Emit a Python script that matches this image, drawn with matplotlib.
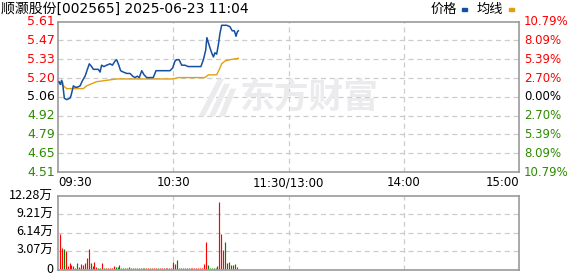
import numpy as np
import matplotlib
matplotlib.use('Agg')
import matplotlib.pyplot as plt
import matplotlib.transforms as mtransforms
from matplotlib.patches import Polygon

plt.rcParams['font.family'] = ['Noto Sans CJK SC', 'DejaVu Sans']

# 分时数据 (分钟, 价格)
price_min = [0.5, 1.2, 1.9, 2.4, 3.3, 4.5, 6.2, 6.8, 8.0, 8.9, 10.1, 11.5, 12.8, 14.1,
             15.3, 16.3, 17.5, 18.4, 20.1, 21.0, 21.9, 22.7, 23.9, 25.3, 27.1, 28.3,
             29.7, 30.5, 31.4, 32.6, 34.0, 35.8, 37.5, 38.9, 40.1, 41.3, 42.3, 43.6,
             44.8, 46.2, 47.9, 49.6, 51.0, 53.1, 54.8, 56.6, 58.3, 59.7, 60.9, 61.8,
             63.0, 64.4, 65.3, 66.1, 67.8, 69.6, 71.3, 73.0, 74.4, 75.7, 76.9, 77.5,
             78.8, 80.0, 80.9, 81.7, 82.6, 83.5, 84.3, 85.2, 87.8, 89.5, 90.7, 91.8,
             92.7, 93.3, 93.9]
price_val = [5.17, 5.15, 5.18, 5.16, 5.05, 5.04, 5.05, 5.07, 5.14, 5.13, 5.13, 5.14, 5.18, 5.21,
             5.26, 5.30, 5.28, 5.26, 5.26, 5.26, 5.24, 5.29, 5.28, 5.29, 5.30, 5.29,
             5.32, 5.33, 5.30, 5.25, 5.24, 5.23, 5.23, 5.21, 5.20, 5.21, 5.20, 5.25,
             5.22, 5.20, 5.20, 5.20, 5.25, 5.25, 5.25, 5.25, 5.25, 5.27, 5.32, 5.33,
             5.33, 5.29, 5.29, 5.29, 5.28, 5.28, 5.28, 5.28, 5.28, 5.33, 5.40, 5.49,
             5.43, 5.38, 5.35, 5.38, 5.37, 5.44, 5.52, 5.58, 5.58, 5.57, 5.54, 5.54,
             5.50, 5.53, 5.54]

# 均价线
avg_min = [0.5, 2.8, 4.5, 9.7, 13.2, 14.9, 20.1, 25.3, 30.5, 39.2, 60.0, 62.7, 76.5,
           78.3, 82.6, 84.0, 85.2, 86.9, 89.5, 93.9]
avg_val = [5.17, 5.14, 5.12, 5.12, 5.12, 5.14, 5.17, 5.18, 5.19, 5.19, 5.19, 5.20, 5.20,
           5.22, 5.22, 5.26, 5.30, 5.32, 5.33, 5.34]

# 成交量 (万), 第1分钟到第93分钟
volume = [5.97, 3.48, 3.32, 2.99, 0.5, 1.0, 0.66, 0.5, 0.17, 1.0, 0.33, 0.83, 0.66, 1.0,
          1.82, 3.37, 1.0, 0.5, 1.16, 0.33, 0.17, 0.17, 1.0, 0.17, 0.17, 0.17, 0.17, 0.17,
          0.6, 0.33, 0.33, 0.66,
          0.17, 0.17, 0.17, 0.17, 0.33, 0.17, 0.17, 0.17, 0.17, 0.17, 0.17, 0.17, 0.17,
          0.17, 0.17, 0.17, 0.17, 0.17, 0.17, 0.17, 0.17, 0.17, 0.17, 0.17, 0.17, 0.17, 0.17,
          1.16, 0.83, 1.49, 0.17,
          0.17, 0.17, 0.17, 0.17, 0.17, 0.17, 0.17, 0.17, 0.17, 0.17, 0.17, 0.17,
          0.83, 4.48, 0.66, 0.17, 0.17, 0.17, 0.17, 0.5, 11.33, 5.97, 3.15, 4.48, 1.0,
          1.16, 0.66, 0.66, 0.83, 0.33]
vol_dir = list('rrgrrrrrggrrrrrrggrrggrgrrrrrggg'
               'ggrgrgggrggrgrrgrrrgrrgrrrr'
               'rrgg'
               'ggrgrgrrrrrr'
               'rrgggggrrrrgrggrgr')

prev_close = 5.06
pct_max = 10.79
price_labels = ['5.61', '5.47', '5.33', '5.20', '5.06', '4.92', '4.79', '4.65', '4.51']
pct_labels = ['10.79%', '8.09%', '5.39%', '2.70%', '0.00%', '2.70%', '5.39%', '8.09%', '10.79%']
time_labels = ['09:30', '10:30', '11:30/13:00', '14:00', '15:00']
vol_labels = ['0', '3.07万', '6.14万', '9.21万', '12.28万']
vol_max = 12.28

RED = '#ff0000'
GREEN = '#008000'
LABEL_GREEN = '#2e8b00'
BORDER = '#999999'
GRID = '#cccccc'
BLUE = '#1450a0'
GOLD = '#e0a012'
WM = '#ebebee'

fig = plt.figure(figsize=(5.78, 2.76), dpi=100)
ax = fig.add_axes([58 / 578, 1 - 172 / 276, 461 / 578, 150.3 / 276])
axv = fig.add_axes([58 / 578, 1 - 270 / 276, 461 / 578, 74 / 276])

lo = prev_close * (1 - pct_max / 100)
hi = prev_close * (1 + pct_max / 100)
ticks = np.linspace(hi, lo, 9)

# 价格区
ax.set_xlim(0, 240)
ax.set_ylim(lo, hi)
for t in ticks[1:-1]:
    ax.axhline(t, color=GRID, lw=0.9, ls=(0, (4, 3)), zorder=0)
for m in [60, 120, 180]:
    ax.axvline(m, color=GRID, lw=0.9, ls=(0, (4, 3)), zorder=0)

# 水印
ax.text(0.545, 0.5, '东方财富', transform=ax.transAxes, fontsize=25, fontweight='bold',
        color=WM, ha='center', va='center', zorder=0)
for dx in [0.0, 0.022, 0.044]:
    ax.add_patch(Polygon([(0.305 + dx, 0.37), (0.318 + dx, 0.37),
                          (0.36 + dx * 0.6, 0.62 - dx * 1.5), (0.347 + dx * 0.6, 0.62 - dx * 1.5)],
                         closed=True, transform=ax.transAxes, color=WM, lw=0, zorder=0))

ax.plot(price_min, price_val, color=BLUE, lw=1.1, zorder=3)
ax.plot(avg_min, avg_val, color=GOLD, lw=1.0, zorder=2)

ax.set_xticks([])
ax.set_yticks([])
for s in ax.spines.values():
    s.set_color(BORDER)
    s.set_linewidth(1.2)

ytr = mtransforms.blended_transform_factory(fig.transFigure, ax.transData)
for i, (t, lab, plab) in enumerate(zip(ticks, price_labels, pct_labels)):
    if i < 4:
        c = RED
    elif i == 4:
        c = 'black'
    else:
        c = LABEL_GREEN
    ax.text(55 / 578, t, lab, transform=ytr, ha='right', va='center', fontsize=9,
            color=c, family='DejaVu Sans')
    ax.text(524 / 578, t, plab, transform=ytr, ha='left', va='center', fontsize=8.5,
            color=c, family='DejaVu Sans')

xtr = mtransforms.blended_transform_factory(ax.transData, fig.transFigure)
for m, lab in zip([0, 60, 120, 180, 240], time_labels):
    ha = 'left' if m == 0 else ('right' if m == 240 else 'center')
    ax.text(m, 1 - 183 / 276, lab, transform=xtr, ha=ha, va='center', fontsize=8.5,
            family='DejaVu Sans')

# 标题和图例
fig.text(1 / 578, 1 - 9 / 276, '顺灏股份[002565] 2025-06-23 11:04', fontsize=10,
         ha='left', va='center', family=['DejaVu Sans', 'Noto Sans CJK SC'])
fig.text(431 / 578, 1 - 9 / 276, '价格', fontsize=9.5, ha='left', va='center')
fig.text(477 / 578, 1 - 9 / 276, '均线', fontsize=9.5, ha='left', va='center')
fig.patches.append(plt.Rectangle((462 / 578, 1 - 11 / 276), 5 / 578, 3 / 276,
                                 transform=fig.transFigure, color=BLUE))
fig.patches.append(plt.Rectangle((509 / 578, 1 - 11 / 276), 5 / 578, 3 / 276,
                                 transform=fig.transFigure, color=GOLD))

# 成交量区
vx = np.arange(1, len(volume) + 1) * 1.0
vcol = [RED if d == 'r' else GREEN for d in vol_dir]
axv.vlines(vx, 0, volume, colors=vcol, lw=0.85, zorder=2)
axv.set_xlim(0, 240)
axv.set_ylim(-0.15, vol_max)
vt = np.linspace(0, vol_max, 5)
for t in vt[1:-1]:
    axv.axhline(t, color=GRID, lw=0.9, ls=(0, (4, 3)), zorder=0)
for m in [60, 120, 180]:
    axv.axvline(m, color=GRID, lw=0.9, ls=(0, (4, 3)), zorder=0)
axv.set_xticks([])
axv.set_yticks([])
for s in axv.spines.values():
    s.set_color(BORDER)
    s.set_linewidth(1.2)
vtr = mtransforms.blended_transform_factory(fig.transFigure, axv.transData)
for t, lab in zip(vt, vol_labels):
    axv.text(53 / 578, t, lab, transform=vtr, ha='right', va='center', fontsize=9)

fig.savefig('out.png', dpi=100)
